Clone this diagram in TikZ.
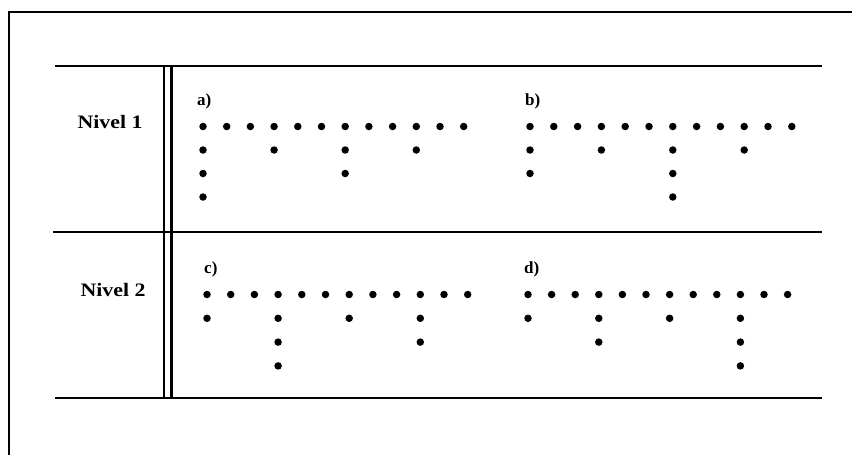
\documentclass[tikz,border=0pt]{standalone}
\usepackage{fontspec}
\setmainfont{Liberation Serif}
\begin{document}
\begin{tikzpicture}[x=1pt,y=-1pt,
  dot/.style={circle,fill=black,inner sep=0pt,minimum size=7.5pt},
  rule/.style={line width=2.6pt},
  frameline/.style={line width=2.2pt},
  lbl/.style={font=\bfseries\fontsize{17}{17}\selectfont, anchor=base west, inner sep=0pt},
  lvl/.style={font=\bfseries\fontsize{19}{19}\selectfont, inner sep=0pt, xscale=1.15}]
\useasboundingbox (0,0) rectangle (852,455);
% outer frame (top and left)
\draw[frameline] (9,456) -- (9,12) -- (853,12);
% table rules
\draw[rule] (55,66) -- (822,66);
\draw[rule] (53,232) -- (822,232);
\draw[rule] (55,398) -- (822,398);
\draw[line width=2.2pt] (164,66) -- (164,398);
\draw[line width=2.2pt] (171.5,66) -- (171.5,398);
% level labels
\node[lvl] (n1) at (110,122) {Nivel 1};
\node[lvl] (n2) at (113,290) {Nivel 2};
% panel labels
\node[lbl] (la) at (197,105) {a)};
\node[lbl] (lb) at (525,105) {b)};
\node[lbl] (lc) at (204,273) {c)};
\node[lbl] (ld) at (524,273) {d)};
% panel a
\foreach \i in {0,...,11} \node[dot] (a-0-\i) at (203+\i*23.7,126.5) {};
\foreach \c/\r in {0/1,3/1,6/1,9/1,0/2,6/2,0/3}
  \node[dot] (a-\r-\c) at (203+\c*23.7,126.5+\r*23.5) {};
% panel b
\foreach \i in {0,...,11} \node[dot] (b-0-\i) at (530+\i*23.8,126.5) {};
\foreach \c/\r in {0/1,3/1,6/1,9/1,0/2,6/2,6/3}
  \node[dot] (b-\r-\c) at (530+\c*23.8,126.5+\r*23.5) {};
% panel c
\foreach \i in {0,...,11} \node[dot] (c-0-\i) at (207+\i*23.7,294.5) {};
\foreach \c/\r in {0/1,3/1,6/1,9/1,3/2,9/2,3/3}
  \node[dot] (c-\r-\c) at (207+\c*23.7,294.5+\r*23.8) {};
% panel d
\foreach \i in {0,...,11} \node[dot] (d-0-\i) at (528+\i*23.6,294.5) {};
\foreach \c/\r in {0/1,3/1,6/1,9/1,3/2,9/2,9/3}
  \node[dot] (d-\r-\c) at (528+\c*23.6,294.5+\r*23.8) {};
\end{tikzpicture}
\end{document}
